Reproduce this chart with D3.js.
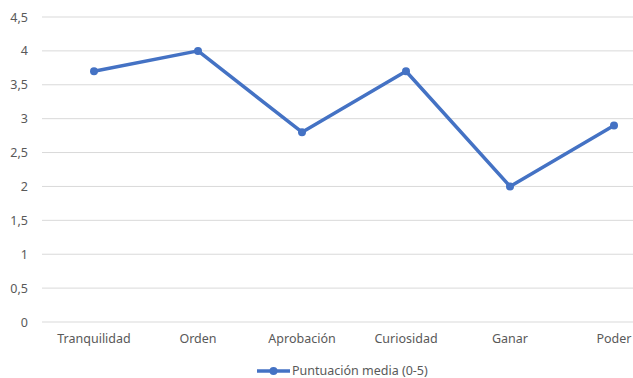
<!DOCTYPE html>
<html>
<head>
<meta charset="utf-8">
<script src="https://cdn.jsdelivr.net/npm/d3@7"></script>
<style>
  body { margin: 0; background: #fff; overflow: hidden; }
  text { font-family: "Noto Sans", "Open Sans", sans-serif; fill: #595959; }
</style>
</head>
<body>
<div class="canvas"></div>
<script>
// data
const categories = ['Tranquilidad', 'Orden', 'Aprobación', 'Curiosidad', 'Ganar', 'Poder'];
const values = [3.7, 4.0, 2.8, 3.7, 2.0, 2.9];
const yTicks = [0, 0.5, 1, 1.5, 2, 2.5, 3, 3.5, 4, 4.5];
const seriesName = 'Puntuación media (0-5)';

const width = 633, height = 378;
const svg = d3.select('.canvas')
    .append('svg')
    .attr('width', width)
    .attr('height', height);

// plot area runs past the right edge, like the cropped original
const margin = {top: 17, left: 42};
const plotRight = 666;
const plotBottom = 322;

const x = d3.scaleBand()
    .domain(categories)
    .range([margin.left, plotRight]);

const y = d3.scaleLinear()
    .domain([0, 4.5])
    .range([plotBottom, margin.top]);

// gridlines
svg.append('g')
  .selectAll('line')
  .data(yTicks)
  .enter().append('line')
    .attr('x1', margin.left)
    .attr('x2', plotRight)
    .attr('y1', d => y(d))
    .attr('y2', d => y(d))
    .attr('stroke', '#d9d9d9')
    .attr('stroke-width', 1);

// y axis labels
const fmt = d => String(d).replace('.', ',');
const yAxis = d3.axisLeft(y).tickValues(yTicks).tickFormat(fmt).tickSize(0).tickPadding(14);
const yAxisGroup = svg.append('g')
    .attr('transform', `translate(${margin.left},0)`)
    .call(yAxis);
yAxisGroup.select('.domain').remove();
yAxisGroup.selectAll('text').attr('font-size', 12.5).style('font-family', '"Noto Sans", sans-serif').attr('fill', '#595959');

// x axis labels
const xAxis = d3.axisBottom(x).tickSize(0).tickPadding(12);
const xAxisGroup = svg.append('g')
    .attr('transform', `translate(0,${plotBottom})`)
    .call(xAxis);
xAxisGroup.select('.domain').remove();
xAxisGroup.selectAll('text').attr('font-size', 12.5).style('font-family', '"Noto Sans", sans-serif').attr('fill', '#595959');

const cx = (d, i) => x(categories[i]) + x.bandwidth() / 2;
const color = '#4472c4';

// line
const line = d3.line()
    .x((d, i) => cx(d, i))
    .y(d => y(d));

svg.append('path')
    .datum(values)
    .attr('d', line)
    .attr('fill', 'none')
    .attr('stroke', color)
    .attr('stroke-width', 3.5)
    .attr('stroke-linejoin', 'round');

svg.append('g')
  .selectAll('circle')
  .data(values)
  .enter().append('circle')
    .attr('cx', cx)
    .attr('cy', d => y(d))
    .attr('r', 4)
    .attr('fill', color);

// legend
const legend = svg.append('g').attr('transform', 'translate(257,371)');
legend.append('line')
    .attr('x1', 0).attr('x2', 33)
    .attr('stroke', color).attr('stroke-width', 3.5);
legend.append('circle')
    .attr('cx', 16.5).attr('r', 4).attr('fill', color);
legend.append('text')
    .attr('x', 35).attr('dy', '0.35em')
    .attr('font-size', 12.5)
    .text(seriesName);
</script>
</body>
</html>
